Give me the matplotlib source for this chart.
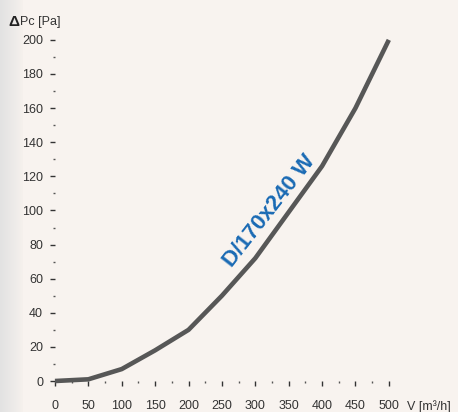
import matplotlib.pyplot as plt
import numpy as np
from matplotlib.ticker import MultipleLocator

# airflow V [m3/h] vs. pressure drop dPc [Pa]
flow = [0, 50, 100, 150, 200, 250, 300, 350, 400, 450, 500]
pressure = [0, 1, 7, 18, 30, 50, 72, 99, 126, 160, 200]
curve_name = "D/170x240 W"

plt.rcParams['font.family'] = ['Liberation Sans', 'DejaVu Sans']

fig = plt.figure(figsize=(4.58, 4.12), dpi=100)
fig.patch.set_facecolor('#f8f3ef')

# gray strip on the left edge
bg = fig.add_axes([0, 0, 0.05, 1], zorder=-5)
grad = np.linspace(0, 1, 64).reshape(1, -1)
bg.imshow(grad, aspect='auto', cmap=plt.matplotlib.colors.LinearSegmentedColormap.from_list(
    'strip', ['#e2e2e2', '#ebe9e8', '#f6f1ed']), extent=[0, 1, 0, 1])
bg.axis('off')

ax = fig.add_axes([0.120, 0.0752, 0.729, 0.828])
ax.set_facecolor('none')
ax.plot(flow, pressure, color='#575757', lw=3.3, solid_capstyle='butt', clip_on=False)

ax.set_xlim(0, 500)
ax.set_ylim(0, 200)
for s in ax.spines.values():
    s.set_visible(False)

ax.xaxis.set_major_locator(MultipleLocator(50))
ax.xaxis.set_minor_locator(MultipleLocator(25))
ax.yaxis.set_major_locator(MultipleLocator(20))
ax.yaxis.set_minor_locator(MultipleLocator(10))
ax.tick_params(which='major', direction='out', length=3.5, width=1, color='#333333',
               labelsize=9, labelcolor='#333333')
ax.tick_params(axis='x', which='major', pad=10)
ax.tick_params(axis='y', which='major', pad=5)
ax.tick_params(which='minor', direction='out', length=1.2, width=1, color='#555555')

# axis titles
fig.text(8 / 458, 1 - 22 / 412, "Δ", fontsize=11, fontweight='bold', color='#222222',
         ha='left', va='center')
fig.text(20 / 458, 1 - 22 / 412, "Pc [Pa]", fontsize=9, color='#333333',
         ha='left', va='center')
ax.text(1.055, -0.075, "V [m³/h]", transform=ax.transAxes,
        fontsize=9, color='#333333', ha='left', va='center')

ax.text(333, 96, curve_name, rotation=52, rotation_mode='anchor',
        color='#1a6ab4', fontsize=16, fontweight='bold', ha='center', va='bottom')

fig.savefig('out.png', dpi=100, facecolor=fig.get_facecolor())
